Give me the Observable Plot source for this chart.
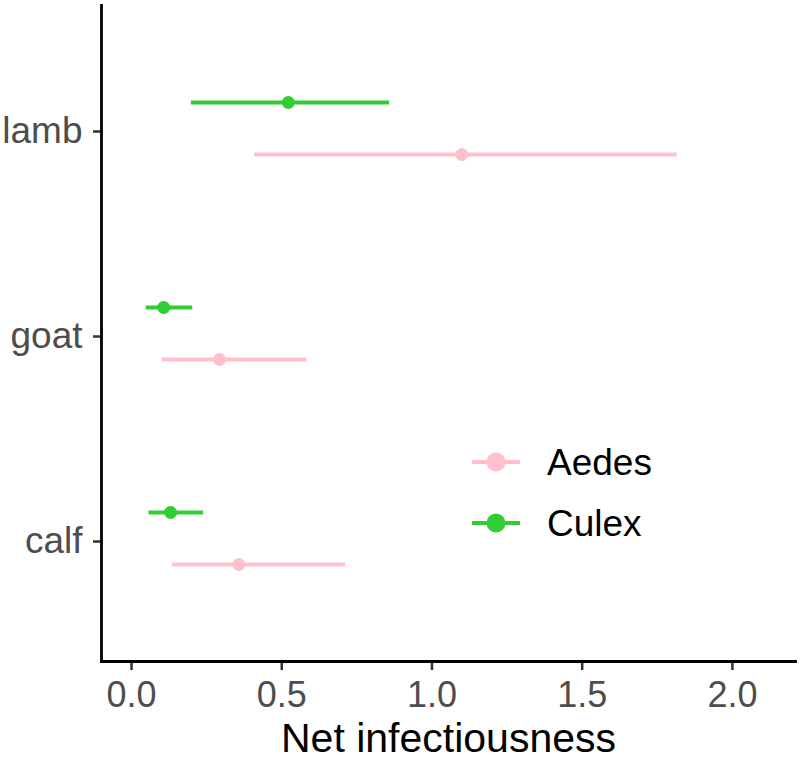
<!DOCTYPE html>
<html>
<head>
<meta charset="utf-8">
<script src="https://cdn.jsdelivr.net/npm/d3@7"></script>
<script src="https://cdn.jsdelivr.net/npm/@observablehq/plot@0.6"></script>
<style>
  html, body { margin: 0; padding: 0; background: white; }
  #wrap { position: relative; width: 800px; height: 761px; font-family: "Liberation Sans", Arial, sans-serif; }
  #legend { position: absolute; left: 466px; top: 435px; }
</style>
</head>
<body>
<div id="wrap">
  <div id="chart"></div>
  <svg id="legend" width="220" height="120"></svg>
</div>
<script>
const animals = ["lamb", "goat", "calf"];
const speciesNames = ["Aedes", "Culex"];
const speciesColors = ["#FFC0CB", "#32CD32"];
const aedesMid = [1.099, 0.293, 0.357];
const aedesLo  = [0.410, 0.102, 0.136];
const aedesHi  = [1.816, 0.584, 0.713];
const culexMid = [0.522, 0.107, 0.130];
const culexLo  = [0.199, 0.049, 0.058];
const culexHi  = [0.859, 0.204, 0.240];
const xTicks = [0, 0.5, 1, 1.5, 2];

const aedes = animals.map((a, i) => ({animal: a, mid: aedesMid[i], lo: aedesLo[i], hi: aedesHi[i]}));
const culex = animals.map((a, i) => ({animal: a, mid: culexMid[i], lo: culexLo[i], hi: culexHi[i]}));

const chart = Plot.plot({
  width: 800,
  height: 761,
  marginLeft: 101,
  marginRight: 5,
  marginTop: 5,
  marginBottom: 100,
  style: {fontFamily: "Liberation Sans, Arial, sans-serif", background: "white", overflow: "visible"},
  x: {domain: [-0.1, 2.21]},
  y: {type: "point", domain: animals, padding: 0.6},
  marks: [
    Plot.ruleY(aedes, {y: "animal", x1: "lo", x2: "hi", stroke: speciesColors[0], strokeWidth: 4, dy: 26}),
    Plot.dot(aedes, {y: "animal", x: "mid", r: 6.5, fill: speciesColors[0], dy: 26}),
    Plot.ruleY(culex, {y: "animal", x1: "lo", x2: "hi", stroke: speciesColors[1], strokeWidth: 4, dy: -26}),
    Plot.dot(culex, {y: "animal", x: "mid", r: 6.5, fill: speciesColors[1], dy: -26}),
    Plot.axisX({ticks: xTicks, tickFormat: d3.format(".1f"), tickSize: 9, tickPadding: 11, fontSize: 36, stroke: "#333", strokeWidth: 2.5, fill: "#4D4D4D", label: null}),
    Plot.axisY({tickSize: 8, tickPadding: 11, fontSize: 37, stroke: "#333", strokeWidth: 2.5, fill: "#4D4D4D", label: null, dy: 3}),
    Plot.frame({anchor: "left", stroke: "black", strokeWidth: 2.8}),
    Plot.frame({anchor: "bottom", stroke: "black", strokeWidth: 2.8}),
    Plot.text(["Net infectiousness"], {frameAnchor: "bottom", lineAnchor: "bottom", dy: 90, fontSize: 41, fill: "black"})
  ]
});
document.getElementById("chart").appendChild(chart);

// legend
const lg = d3.select("#legend");
speciesNames.forEach((name, i) => {
  const cy = 27 + i * 61;
  lg.append("line").attr("x1", 6).attr("x2", 54).attr("y1", cy).attr("y2", cy)
    .attr("stroke", speciesColors[i]).attr("stroke-width", 4);
  lg.append("circle").attr("cx", 30).attr("cy", cy).attr("r", 9.5).attr("fill", speciesColors[i]);
  lg.append("text").attr("x", 81).attr("y", cy + 13).attr("font-size", 37)
    .attr("font-family", "Liberation Sans, Arial, sans-serif").attr("fill", "black").text(name);
});
</script>
</body>
</html>
